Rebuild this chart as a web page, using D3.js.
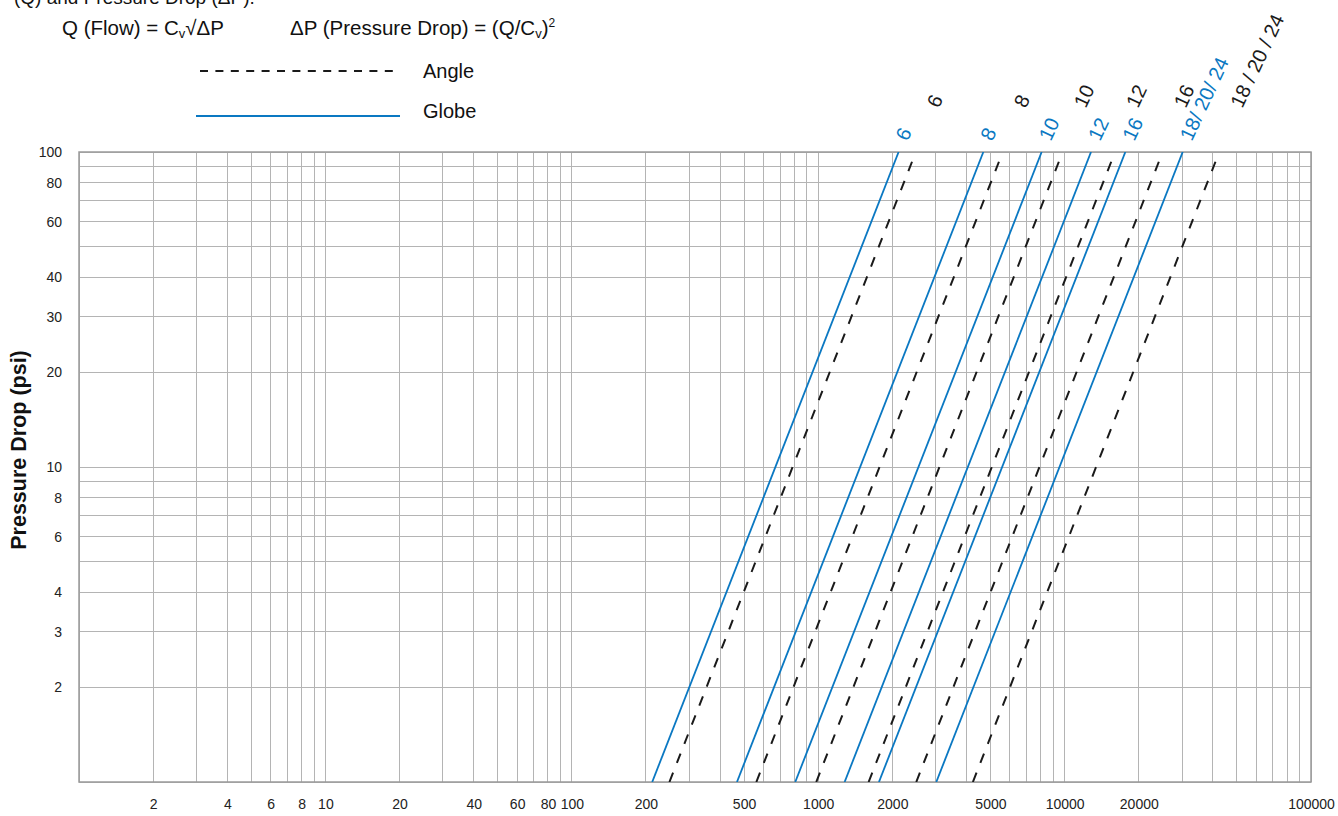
<!DOCTYPE html>
<html>
<head>
<meta charset="utf-8">
<script src="https://cdn.jsdelivr.net/npm/d3@7"></script>
<style>
  html, body { margin: 0; padding: 0; background: #fff; }
  svg { display: block; }
  .narrow { font-family: 'Liberation Sans Narrow', 'Arial Narrow', 'Liberation Sans', Arial, sans-serif; }
  .reg { font-family: 'Liberation Sans', Arial, sans-serif; }
</style>
</head>
<body>
<svg id="chart" width="1338" height="816"></svg>
<script>
// ---- data ----
const xTickValues = [2, 4, 6, 8, 10, 20, 40, 60, 80, 100, 200, 500, 1000, 2000, 5000, 10000, 20000, 100000];
const yTickValues = [2, 3, 4, 6, 8, 10, 20, 30, 40, 60, 80, 100];
const xDomain = [1, 100000];
const yDomain = [1, 100];

const globeLabels = ["6", "8", "10", "12", "16", "18/ 20/ 24"];
const angleLabels = ["6", "8", "10", "12", "16", "18 / 20 / 24"];

// flow (Q) where each line crosses ΔP = 1 psi and ΔP = 100 psi
const pressureEnds = [1, 100];
const globeQLow  = [212, 468, 807, 1280, 1764, 3015];
const globeQHigh = [2120, 4680, 8070, 12800, 17640, 30150];
const angleQLow  = [249, 561, 982, 1602, 2500, 4244];
const angleQHigh = [2490, 5610, 9820, 16020, 25000, 42440];

// ---- drawing ----
const svg = d3.select("#chart");
const BLUE = "#0a78c2";
const DARK = "#1a1a1a";
const M = { left: 79, right: 1311, top: 152, bottom: 782 };

const x = d3.scaleLog().domain(xDomain).range([M.left, M.right]);
const y = d3.scaleLog().domain(yDomain).range([M.bottom, M.top]);

// grid
const grid = svg.append("g").attr("shape-rendering", "crispEdges");
grid.selectAll("line.v").data(x.ticks()).join("line")
  .attr("x1", d => x(d)).attr("x2", d => x(d))
  .attr("y1", M.top).attr("y2", M.bottom)
  .attr("stroke", "#b4b4b4").attr("stroke-width", 1);
grid.selectAll("line.h").data(y.ticks()).join("line")
  .attr("y1", d => y(d)).attr("y2", d => y(d))
  .attr("x1", M.left).attr("x2", M.right)
  .attr("stroke", "#b4b4b4").attr("stroke-width", 1);

// frame
svg.append("rect")
  .attr("x", M.left).attr("y", M.top)
  .attr("width", M.right - M.left).attr("height", M.bottom - M.top)
  .attr("fill", "none").attr("stroke", "#9a9a9a").attr("stroke-width", 1.5);

// axes
const xAxis = svg.append("g").attr("class", "narrow")
  .attr("transform", `translate(0,${M.bottom})`)
  .call(d3.axisBottom(x).tickValues(xTickValues).tickFormat(d3.format("d")).tickSize(0).tickPadding(17));
xAxis.select(".domain").remove();
xAxis.selectAll("text").attr("font-size", 14).attr("fill", "#222").attr("font-family", null);

const yAxis = svg.append("g").attr("class", "narrow")
  .attr("transform", `translate(${M.left},0)`)
  .call(d3.axisLeft(y).tickValues(yTickValues).tickFormat(d3.format("d")).tickSize(0).tickPadding(17));
yAxis.select(".domain").remove();
yAxis.selectAll("text").attr("font-size", 14).attr("fill", "#222").attr("font-family", null);

// y axis title
svg.append("text").attr("class", "narrow")
  .attr("transform", `translate(26,${(M.top + M.bottom) / 2 - 17}) rotate(-90)`)
  .attr("text-anchor", "middle")
  .attr("font-size", 21.5).attr("font-weight", "bold").attr("fill", "#111")
  .text("Pressure Drop (psi)");

// clip
svg.append("clipPath").attr("id", "plotclip").append("rect")
  .attr("x", M.left).attr("y", M.top)
  .attr("width", M.right - M.left).attr("height", M.bottom - M.top);

const line = d3.line().x(d => x(d[0])).y(d => y(d[1]));
const globeData = globeQLow.map((q, i) => [[q, pressureEnds[0]], [globeQHigh[i], pressureEnds[1]]]);
const angleData = angleQLow.map((q, i) => [[q, pressureEnds[0]], [angleQHigh[i], pressureEnds[1]]]);

const lines = svg.append("g").attr("clip-path", "url(#plotclip)");
lines.selectAll("path.globe").data(globeData).join("path")
  .attr("d", line).attr("fill", "none")
  .attr("stroke", BLUE).attr("stroke-width", 1.8);
lines.selectAll("path.angle").data(angleData).join("path")
  .attr("d", line).attr("fill", "none")
  .attr("stroke", DARK).attr("stroke-width", 2)
  .attr("stroke-dasharray", "10,10.5");

// line labels
svg.append("g").attr("class", "reg").selectAll("text").data(globeLabels).join("text")
  .attr("transform", (d, i) => `translate(${x(globeQHigh[i]) + 9},142) rotate(-65)`)
  .attr("font-size", 20).attr("fill", BLUE)
  .text(d => d);
svg.append("g").attr("class", "reg").selectAll("text").data(angleLabels).join("text")
  .attr("transform", (d, i) => `translate(${x(angleQHigh[i]) + 23},109) rotate(-65)`)
  .attr("font-size", 20).attr("fill", DARK)
  .text(d => d);

// header text
const hdr = svg.append("g").attr("class", "narrow").attr("fill", "#111");
hdr.append("text").attr("x", 14).attr("y", 4).attr("font-size", 19).text("(Q) and Pressure Drop (\u0394P).");

const t1 = hdr.append("text").attr("x", 62).attr("y", 35).attr("font-size", 20.5);
t1.append("tspan").text("Q (Flow) = C");
t1.append("tspan").attr("font-size", 13).attr("dy", 3).text("v");
t1.append("tspan").attr("dy", -3).text("\u221A\u0394P");

const t2 = hdr.append("text").attr("x", 290).attr("y", 35).attr("font-size", 20.5);
t2.append("tspan").text("\u0394P (Pressure Drop) = (Q/C");
t2.append("tspan").attr("font-size", 13).attr("dy", 3).text("v");
t2.append("tspan").attr("dy", -3).text(")");
t2.append("tspan").attr("font-size", 12).attr("dy", -8).text("2");

// legend
const lg = svg.append("g");
lg.append("line").attr("x1", 200).attr("x2", 400).attr("y1", 71).attr("y2", 71)
  .attr("stroke", DARK).attr("stroke-width", 2).attr("stroke-dasharray", "8,7.4");
lg.append("text").attr("class", "narrow").attr("x", 423).attr("y", 78).attr("font-size", 20).attr("fill", "#111").text("Angle");
lg.append("line").attr("x1", 196).attr("x2", 400).attr("y1", 116).attr("y2", 116)
  .attr("stroke", BLUE).attr("stroke-width", 2);
lg.append("text").attr("class", "narrow").attr("x", 423).attr("y", 118).attr("font-size", 20).attr("fill", "#111").text("Globe");
</script>
</body>
</html>
